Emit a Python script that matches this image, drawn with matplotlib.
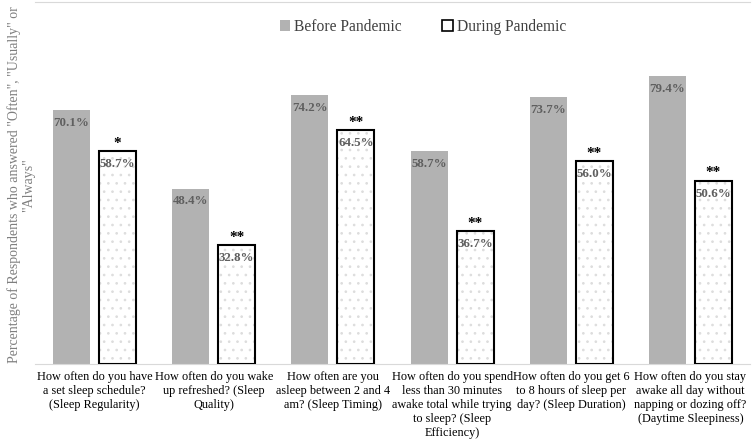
import matplotlib
matplotlib.use("Agg")
import matplotlib.pyplot as plt
import numpy as np
from matplotlib.patches import Patch

categories = [
    "How often do you have\na set sleep schedule?\n(Sleep Regularity)",
    "How often do you wake\nup refreshed? (Sleep\nQuality)",
    "How often are you\nasleep between 2 and 4\nam? (Sleep Timing)",
    "How often do you spend\nless than 30 minutes\nawake total while trying\nto sleep? (Sleep\nEfficiency)",
    "How often do you get 6\nto 8 hours of sleep per\nday? (Sleep Duration)",
    "How often do you stay\nawake all day without\nnapping or dozing off?\n(Daytime Sleepiness)",
]
before = [70.1, 48.4, 74.2, 58.7, 73.7, 79.4]
during = [58.7, 32.8, 64.5, 36.7, 56.0, 50.6]
signif = ["*", "**", "**", "**", "**", "**"]
series_names = ["Before Pandemic", "During Pandemic"]
ylabel = 'Percentage of Respondents who answered "Often", "Usually" or\n"Always"'

plt.rcParams['font.family'] = ['Liberation Serif', 'DejaVu Serif']
plt.rcParams['hatch.linewidth'] = 0.7

fig = plt.figure(figsize=(7.52, 4.42), dpi=100)
ax = fig.add_axes([35/752, 1 - 364/442, 715/752, 362.5/442])

x = np.arange(len(categories))
w = 0.31
off = 0.193
gray = '#b2b2b2'

ax.bar(x - off, before, w, color=gray, edgecolor='none', zorder=2)
ax.bar(x + off, during, w, color='white', edgecolor='#dddddd', hatch='..',
       linewidth=0, zorder=2)
ax.bar(x + off, during, w, color='none', edgecolor='black', linewidth=1.5, zorder=3)

for xi, b, d, s in zip(x, before, during, signif):
    ax.annotate(f"{b:.1f}%", (xi - off, b), xytext=(0, -5), textcoords='offset points',
                ha='center', va='top', fontsize=9.3, fontweight='bold', color='#5f5f5f', zorder=4)
    ax.annotate(f"{d:.1f}%", (xi + off, d), xytext=(0, -5), textcoords='offset points',
                ha='center', va='top', fontsize=9.3, fontweight='bold', color='#5f5f5f', zorder=4)
    ax.annotate(s, (xi + off, d), xytext=(0, 1), textcoords='offset points',
                ha='center', va='bottom', fontsize=11, fontweight='bold', color='black', zorder=4)

ax.set_xlim(-0.5, len(categories) - 0.5)
ax.set_ylim(0, 100)
ax.set_xticks(x)
ax.set_xticklabels(categories, fontsize=8.8, linespacing=1.22)
ax.tick_params(axis='x', length=0, pad=5)
ax.set_yticks([])
for sp in ['left', 'right']:
    ax.spines[sp].set_visible(False)
ax.spines['bottom'].set_color('#d9d9d9')
ax.spines['top'].set_color('#d9d9d9')

fig.text(21/752, 1 - 185/442, ylabel, rotation=90, ha='center', va='center',
         fontsize=10, color='#7f7f7f', multialignment='center', linespacing=1.05)

handles = [Patch(facecolor=gray, edgecolor='none'),
           Patch(facecolor='white', edgecolor='black', linewidth=1.2)]
fig.legend(handles, series_names, loc='center', bbox_to_anchor=(423/752, 1 - 27/442),
           ncol=2, frameon=False, fontsize=11.2, handlelength=0.7, handleheight=0.7,
           handletextpad=0.25, columnspacing=2.6, labelcolor='#404040')

fig.savefig('out.png', dpi=100)
